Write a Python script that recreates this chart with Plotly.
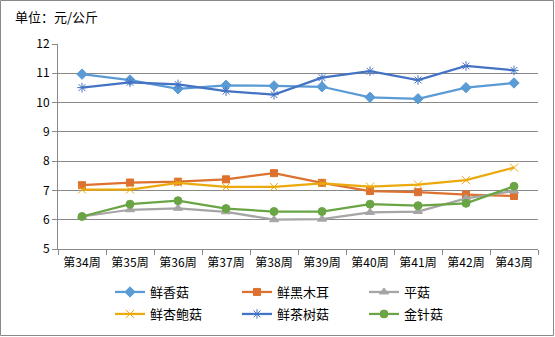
import plotly.graph_objects as go

weeks = ["第34周", "第35周", "第36周", "第37周", "第38周", "第39周", "第40周", "第41周", "第42周", "第43周"]
xianggu = [10.97, 10.77, 10.47, 10.59, 10.57, 10.54, 10.18, 10.13, 10.51, 10.67]
heimuer = [7.18, 7.27, 7.30, 7.38, 7.59, 7.26, 6.98, 6.94, 6.86, 6.81]
pinggu = [6.11, 6.34, 6.39, 6.27, 6.00, 6.02, 6.25, 6.28, 6.73, 6.98]
xingbaogu = [7.03, 7.03, 7.26, 7.12, 7.12, 7.24, 7.13, 7.20, 7.35, 7.78]
chashugu = [10.51, 10.69, 10.62, 10.39, 10.27, 10.85, 11.07, 10.77, 11.25, 11.10]
jinzhengu = [6.11, 6.53, 6.65, 6.38, 6.28, 6.28, 6.53, 6.48, 6.56, 7.14]

series = [
    ("鲜香菇", xianggu, "#5B9BD5", "diamond", 8, "legend"),
    ("鲜黑木耳", heimuer, "#DC7130", "square", 7, "legend"),
    ("平菇", pinggu, "#A5A5A5", "triangle-up", 8, "legend"),
    ("鲜杏鲍菇", xingbaogu, "#EBA90C", "x-thin-open", 8, "legend2"),
    ("鲜茶树菇", chashugu, "#4472C4", "asterisk-open", 8, "legend2"),
    ("金针菇", jinzhengu, "#6AA545", "circle", 8, "legend2"),
]

font = "Noto Sans CJK SC, Microsoft YaHei, sans-serif"
fig = go.Figure()
for name, vals, color, sym, sz, lg in series:
    fig.add_trace(go.Scatter(
        x=weeks, y=vals, name=name, mode="lines+markers",
        line=dict(color=color, width=2.25),
        marker=dict(symbol=sym, size=sz, color=color, line=dict(color=color, width=1)),
        legend=lg,
    ))

W, H = 555, 337
ml, mr, mt, mb = 58, 17, 44, 88
pw = W - ml - mr
ph = H - mt - mb

leg_common = dict(orientation="h", xanchor="left", yanchor="middle",
                  entrywidth=82, entrywidthmode="pixels",
                  font=dict(family=font, size=13, color="#000"),
                  bgcolor="rgba(0,0,0,0)", itemwidth=30, tracegroupgap=0)

fig.update_layout(
    width=W, height=H,
    margin=dict(l=ml, r=mr, t=mt, b=mb, autoexpand=False),
    paper_bgcolor="white", plot_bgcolor="white",
    font=dict(family=font, size=12, color="#000"),
    showlegend=True,
    legend=dict(x=(110 - ml) / pw, y=-(292 - mt - ph) / ph, **leg_common),
    legend2=dict(x=(110 - ml) / pw, y=-(314 - mt - ph) / ph, **leg_common),
    xaxis=dict(type="category", showgrid=False, showline=True, linecolor="#898989", linewidth=1,
               ticks="outside", tickson="boundaries", ticklen=5, tickcolor="#898989",
               ticklabelstandoff=3,
               tickfont=dict(family=font, size=12, color="#000"), range=[-0.5, 9.5]),
    yaxis=dict(range=[5, 12], dtick=1, showgrid=True, gridcolor="#898989", gridwidth=1,
               showline=True, linecolor="#898989", linewidth=1, ticks="outside", ticklen=5,
               tickcolor="#898989", zeroline=False,
               tickfont=dict(family=font, size=12, color="#000")),
    shapes=[dict(type="rect", xref="paper", yref="paper",
                 x0=-(ml - 0.5) / pw, x1=1 + (mr - 1.5) / pw,
                 y0=-(mb - 1.5) / ph, y1=1 + (mt - 0.5) / ph,
                 line=dict(color="#898989", width=1), fillcolor="rgba(0,0,0,0)", layer="below")],
    annotations=[dict(text="单位：元/公斤", xref="paper", yref="paper",
                      x=-(ml - 13) / pw, y=1 + (mt - 17) / ph, xanchor="left", yanchor="middle",
                      showarrow=False, font=dict(family=font, size=13, color="#000"))],
)

fig.write_html("out.html")
